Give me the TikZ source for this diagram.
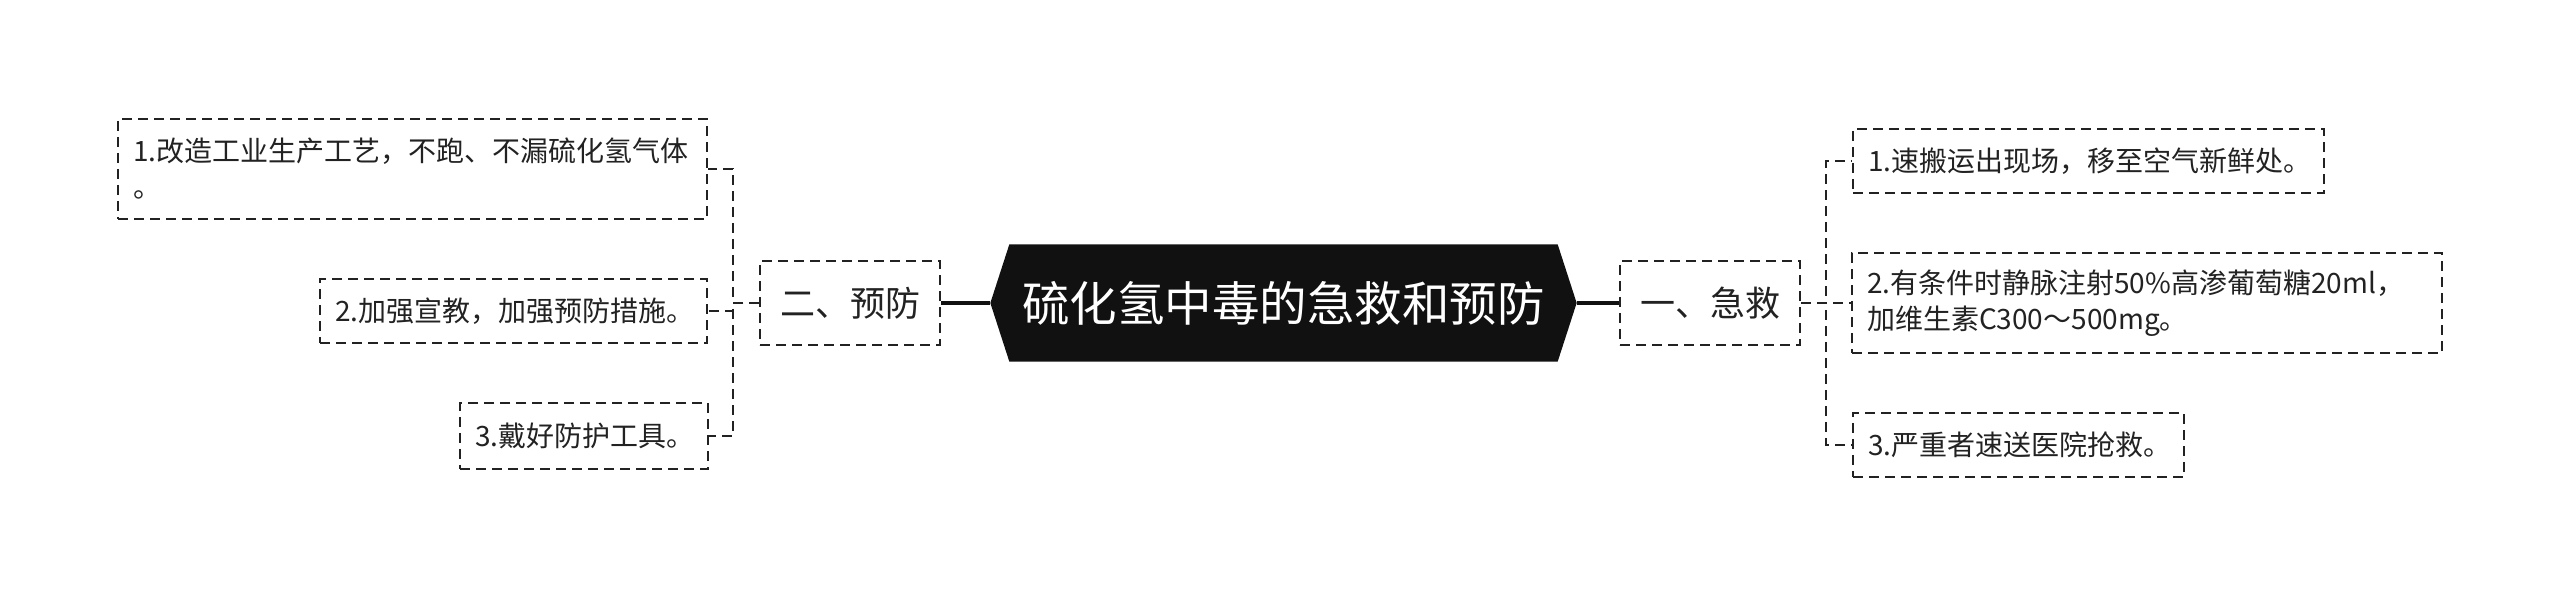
\documentclass[tikz,border=0pt]{standalone}
\usepackage{fontspec}
\setmainfont{Noto Sans CJK SC}
\usetikzlibrary{backgrounds}

\definecolor{mmInk}{HTML}{222222}
\definecolor{mmRoot}{HTML}{111111}

\def\mmPad{4.5pt}
\def\mmTip{5.7pt}

\tikzset{
  mmbox/.style = {draw = mmInk, text = mmInk, line width = 0.6pt,
    dash pattern = on 3pt off 1.8pt, inner xsep = \mmPad, inner ysep = 0pt,
    align = left},
  leaf/.style = {mmbox, font = \fontsize{8.4}{10.8}\selectfont},
  branch/.style = {mmbox, font = \fontsize{10.5}{12.6}\selectfont,
    minimum width = 54pt, minimum height = 25.2pt},
  link/.style = {draw = mmInk, line width = 0.6pt, dash pattern = on 3pt off 1.8pt},
  stem/.style = {draw = mmRoot, line width = 1.2pt}
}

\begin{document}
\begin{tikzpicture}[x = 0.3pt, y = -0.3pt]
  \useasboundingbox (0,0) rectangle (2560,597);
  %% root
  \node [minimum width = 175.5pt, minimum height = 34.8pt, inner sep = 0pt,
    text = white, font = \fontsize{14.25}{16}\selectfont]
    (root) at (1283.5,303) {硫化氢中毒的急救和预防};
  \begin{scope}[on background layer]
    \fill [mmRoot]
    (root.west) -- ([xshift = \mmTip]root.north west)
    -- ([xshift = -\mmTip]root.north east) -- (root.east)
    -- ([xshift = -\mmTip]root.south east)
    -- ([xshift = \mmTip]root.south west) -- cycle;
  \end{scope}
  %% branches
  \node [branch] (prevent) at (850,303) {二、预防};
  \node [branch] (aid) at (1710,303) {一、急救};
  %% left leaves
  \node [leaf, anchor = east, text width = 167.7pt, minimum height = 30pt]
    (prevent1) at (708,169) {1.改造工业生产工艺，不跑、不漏硫化氢气体\\。};
  \node [leaf, anchor = east, text width = 107.1pt, minimum height = 19.2pt]
    (prevent2) at (708,311) {2.加强宣教，加强预防措施。};
  \node [leaf, anchor = east, text width = 65.4pt, minimum height = 19.8pt]
    (prevent3) at (709,436) {3.戴好防护工具。};
  %% right leaves
  \node [leaf, anchor = west, text width = 132.3pt, minimum height = 19.2pt]
    (aid1) at (1852,161) {1.速搬运出现场，移至空气新鲜处。};
  \node [leaf, anchor = west, text width = 168pt, minimum height = 30pt]
    (aid2) at (1851,303) {2.有条件时静脉注射50\%高渗葡萄糖20ml，\\加维生素C300～500mg。};
  \node [leaf, anchor = west, text width = 90.3pt, minimum height = 19.2pt]
    (aid3) at (1852,445) {3.严重者速送医院抢救。};
  %% connectors
  \coordinate (lspine) at (733,303);
  \coordinate (rspine) at (1826,303);
  \draw [stem] (root.west) -- (prevent.east);
  \draw [stem] (root.east) -- (aid.west);
  \draw [link] (prevent.west) -- (lspine) |- (prevent1.east);
  \draw [link] (prevent.west) -- (lspine) |- (prevent2.east);
  \draw [link] (prevent.west) -- (lspine) |- (prevent3.east);
  \draw [link] (aid.east) -- (rspine) |- (aid1.west);
  \draw [link] (aid.east) -- (rspine) |- (aid2.west);
  \draw [link] (aid.east) -- (rspine) |- (aid3.west);
\end{tikzpicture}
\end{document}
